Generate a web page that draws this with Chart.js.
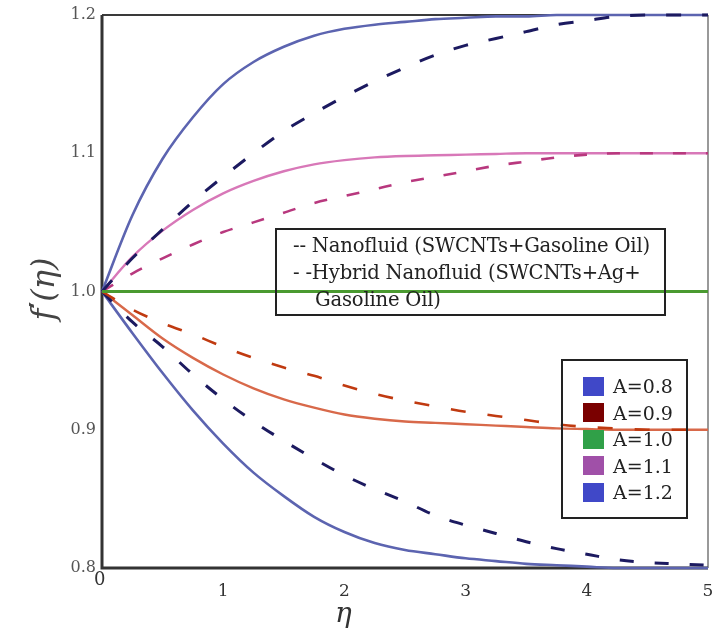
<!DOCTYPE html>
<html>
<head>
<meta charset="utf-8">
<script src="https://cdn.jsdelivr.net/npm/chart.js@4.4.1/dist/chart.umd.min.js"></script>
<style>
  html, body { margin: 0; padding: 0; background: #fff; overflow: hidden; }
  #wrap { position: relative; width: 712px; height: 636px; }
  canvas { position: absolute; left: 0; top: 0; }
  .lbl { position: absolute; font-family: "DejaVu Serif", serif; color: #222; white-space: nowrap; }
  .box { position: absolute; border: 2px solid #222; box-sizing: border-box; }
  .note { left: 275px; top: 228px; width: 391px; height: 88px; padding: 2px 0 0 16px; font-size: 19.6px; line-height: 27px; letter-spacing: -0.2px; }
  .keys { left: 561px; top: 359px; width: 127px; height: 160px; padding-top: 12px; }
  .key { display: flex; align-items: center; height: 26.5px; font-size: 19px; padding-left: 20px; }
  .key i { display: inline-block; width: 21px; height: 19px; margin-right: 9px; }
</style>
</head>
<body>
<div id="wrap">
  <canvas id="chart" width="712" height="636"></canvas>
  <div class="box lbl note">
    <div>-- Nanofluid (SWCNTs+Gasoline Oil)</div>
    <div>- -Hybrid Nanofluid (SWCNTs+Ag+</div>
    <div style="padding-left:22px">Gasoline Oil)</div>
  </div>
  <div class="box lbl keys" id="keys"></div>
  <div class="lbl" style="left:94px;top:568px;font-size:18px;color:#333">0</div>
  <div class="lbl" style="left:335px;top:596px;font-size:28px;font-style:italic;color:#333">η</div>
  <div class="lbl" style="left:-2px;top:270px;width:90px;text-align:center;font-size:32px;font-style:italic;color:#444;transform:rotate(-90deg)">f<span style="font-style:normal;font-weight:bold;font-size:26px;vertical-align:6px">′</span>(η)</div>
</div>
<script>
/* ===== Datos ===== */
const eta = [0, 0.25, 0.5, 0.75, 1, 1.25, 1.5, 1.75, 2, 2.25, 2.5, 2.75, 3, 3.25, 3.5, 3.75, 4, 4.25, 4.5, 4.75, 5];

// línea continua = nanofluido, discontinua = híbrido
const nano12 = [1.0, 1.055, 1.096, 1.126, 1.150, 1.166, 1.177, 1.185, 1.190, 1.193, 1.195, 1.197, 1.198, 1.199, 1.199, 1.2, 1.2, 1.2, 1.2, 1.2, 1.2];
const hyb12  = [1.0, 1.024, 1.045, 1.065, 1.083, 1.100, 1.116, 1.129, 1.141, 1.152, 1.162, 1.171, 1.178, 1.183, 1.188, 1.193, 1.196, 1.199, 1.2, 1.2, 1.2];
const nano11 = [1.0, 1.025, 1.044, 1.059, 1.071, 1.080, 1.087, 1.092, 1.095, 1.097, 1.098, 1.0985, 1.099, 1.0995, 1.1, 1.1, 1.1, 1.1, 1.1, 1.1, 1.1];
const hyb11  = [1.0, 1.013, 1.024, 1.034, 1.043, 1.050, 1.057, 1.064, 1.069, 1.074, 1.079, 1.083, 1.087, 1.091, 1.094, 1.097, 1.099, 1.1, 1.1, 1.1, 1.1];
const nano10 = [1.0, 1.0, 1.0, 1.0, 1.0, 1.0, 1.0, 1.0, 1.0, 1.0, 1.0, 1.0, 1.0, 1.0, 1.0, 1.0, 1.0, 1.0, 1.0, 1.0, 1.0];
const nano09 = [1.0, 0.983, 0.966, 0.952, 0.940, 0.930, 0.922, 0.916, 0.911, 0.908, 0.906, 0.905, 0.904, 0.903, 0.902, 0.901, 0.9005, 0.9, 0.9, 0.9, 0.9];
const hyb09  = [1.0, 0.987, 0.977, 0.969, 0.960, 0.952, 0.945, 0.939, 0.932, 0.926, 0.921, 0.917, 0.913, 0.910, 0.907, 0.904, 0.902, 0.901, 0.9, 0.9, 0.9];
const nano08 = [1.0, 0.970, 0.941, 0.914, 0.890, 0.869, 0.852, 0.837, 0.826, 0.818, 0.813, 0.810, 0.807, 0.805, 0.803, 0.802, 0.801, 0.8, 0.8, 0.8, 0.8];
const hyb08  = [1.0, 0.978, 0.960, 0.940, 0.922, 0.906, 0.892, 0.879, 0.867, 0.857, 0.848, 0.838, 0.831, 0.825, 0.819, 0.814, 0.810, 0.806, 0.804, 0.803, 0.802];

const yTicks = [0.8, 0.9, 1.0, 1.1, 1.2];
const keyLabels = ["A=0.8", "A=0.9", "A=1.0", "A=1.1", "A=1.2"];
const keyColors = ["#4048c8", "#7a0000", "#30a048", "#a050a8", "#4048c8"];

/* ===== Helpers ===== */
const pts = (arr) => eta.map((x, i) => ({ x, y: arr[i] }));

function serie(arr, color, width, dash) {
  return {
    data: pts(arr),
    borderColor: color,
    borderWidth: width,
    borderDash: dash || [],
    pointRadius: 0,
    cubicInterpolationMode: "monotone",
    showLine: true,
    fill: false,
    clip: 6,
  };
}

/* ===== Leyenda ===== */
const keys = document.getElementById("keys");
keyLabels.forEach((t, i) => {
  const d = document.createElement("div");
  d.className = "key";
  d.innerHTML = `<i style="background:${keyColors[i]}"></i><span>${t}</span>`;
  keys.appendChild(d);
});

/* ===== Marco ===== */
const frame = {
  id: "frame",
  beforeDatasetsDraw(chart) {
    const { ctx, chartArea: a } = chart;
    ctx.save();
    ctx.strokeStyle = "#3a3a3a";
    ctx.lineWidth = 2;
    ctx.beginPath();
    ctx.moveTo(a.left, a.top);
    ctx.lineTo(a.right, a.top);
    ctx.stroke();
    ctx.strokeStyle = "#777";
    ctx.lineWidth = 1.5;
    ctx.beginPath();
    ctx.moveTo(a.right, a.top);
    ctx.lineTo(a.right, a.bottom);
    ctx.stroke();
    ctx.strokeStyle = "#333";
    ctx.lineWidth = 3;
    ctx.beginPath();
    ctx.moveTo(a.left, a.top);
    ctx.lineTo(a.left, a.bottom);
    ctx.lineTo(a.right, a.bottom);
    ctx.stroke();
    ctx.restore();
  },
};

/* ===== Gráfico ===== */
new Chart(document.getElementById("chart"), {
  type: "scatter",
  data: {
    datasets: [
      serie(nano10, "#4a9a30", 3),
      serie(hyb12, "#1c1a60", 3, [15, 21]),
      serie(hyb11, "#b8387e", 2.6, [13, 20]),
      serie(hyb09, "#c03a10", 2.6, [15, 22]),
      serie(hyb08, "#1c1a60", 3, [14, 21]),
      serie(nano12, "#5c64b0", 2.6),
      serie(nano11, "#d878b8", 2.4),
      serie(nano09, "#d8694a", 2.4),
      serie(nano08, "#5c64b0", 2.6),
    ],
  },
  options: {
    responsive: false,
    animation: false,
    devicePixelRatio: 1,
    layout: { padding: { top: 15, right: 4, left: 0, bottom: 0 } },
    plugins: { legend: { display: false }, tooltip: { enabled: false } },
    scales: {
      x: {
        type: "linear",
        min: 0,
        max: 5,
        grid: { display: false, drawTicks: false },
        border: { display: false },
        ticks: {
          stepSize: 1,
          padding: 13,
          color: "#333",
          font: { family: "DejaVu Serif", size: 17 },
          callback: (v) => (v === 0 ? "" : v),
        },
        afterFit: (s) => {
          s.height = 68;
          s.paddingLeft = 0;
          s.paddingRight = 0;
        },
      },
      y: {
        min: 0.8,
        max: 1.2,
        grid: { display: false, drawTicks: false },
        border: { display: false },
        afterBuildTicks: (s) => { s.ticks = yTicks.map((v) => ({ value: v })); },
        ticks: {
          padding: 6,
          color: "#555",
          font: { family: "DejaVu Serif", size: 16 },
          callback: (v) => v.toFixed(1),
        },
        afterFit: (s) => {
          s.width = 102;
          s.paddingTop = 0;
          s.paddingBottom = 0;
        },
      },
    },
  },
  plugins: [frame],
});
</script>
</body>
</html>
